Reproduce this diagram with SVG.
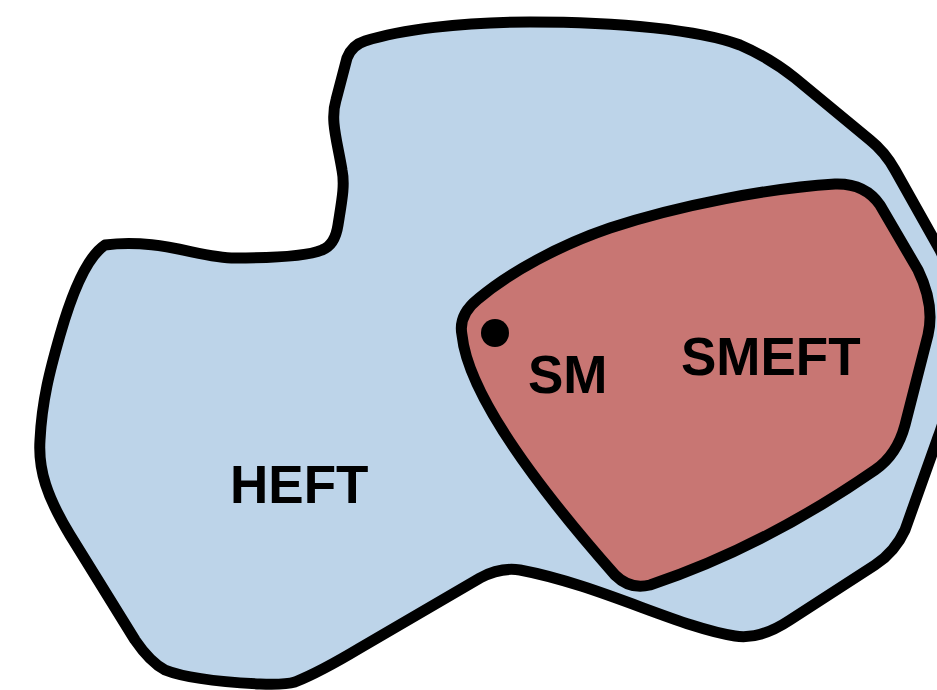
<svg xmlns="http://www.w3.org/2000/svg" width="937" height="690" viewBox="0 0 937 690">
<style>
.region{stroke:#000;stroke-width:11;stroke-linejoin:round}
.heft{fill:#BDD4E9}
.smeft{fill:#C87673}
.lbl{font-family:"Liberation Sans",Arial,sans-serif;font-weight:bold;font-size:53px;fill:#000}
</style>
<rect width="937" height="690" fill="#fff"/>
<g id="heft">
<path class="region heft" d="M 105,245 C 160,238 200,258 235,258 C 280,258 310,255 322,250 Q 335,245 338,225 C 342,200 345,185 342,170 C 337,140 330,120 336,100 L 347,58 Q 352,45 365,41 C 400,30 460,22 530,22 C 620,22 700,30 740,45 Q 770,58 795,78 L 870,140 Q 885,152 895,170 L 940,250 C 965,300 960,380 937,440 L 905,530 Q 895,552 875,565 L 790,620 Q 760,640 735,636 C 680,628 600,585 520,570 Q 500,567 480,578 L 360,648 Q 320,672 295,682 Q 285,685 260,684 C 220,682 185,678 165,670 Q 150,662 135,640 L 70,535 C 47,497 38,470 40,440 C 42,400 50,370 60,335 C 70,300 85,258 105,245 Z"/>
<text class="lbl" x="230" y="503">HEFT</text>
</g>
<g id="smeft">
<path class="region smeft" d="M 462,335 Q 458,315 478,299 C 510,272 560,245 610,228 C 680,205 770,188 835,184 Q 865,183 880,205 L 918,270 Q 935,305 928,335 L 905,425 Q 897,455 875,470 C 820,508 740,555 650,585 Q 630,590 615,575 C 540,490 468,395 462,335 Z"/>
<text class="lbl" x="681" y="375">SMEFT</text>
</g>
<g id="sm">
<circle cx="495" cy="333" r="14" fill="#000"/>
<text class="lbl" x="528" y="393">SM</text>
</g>
</svg>
